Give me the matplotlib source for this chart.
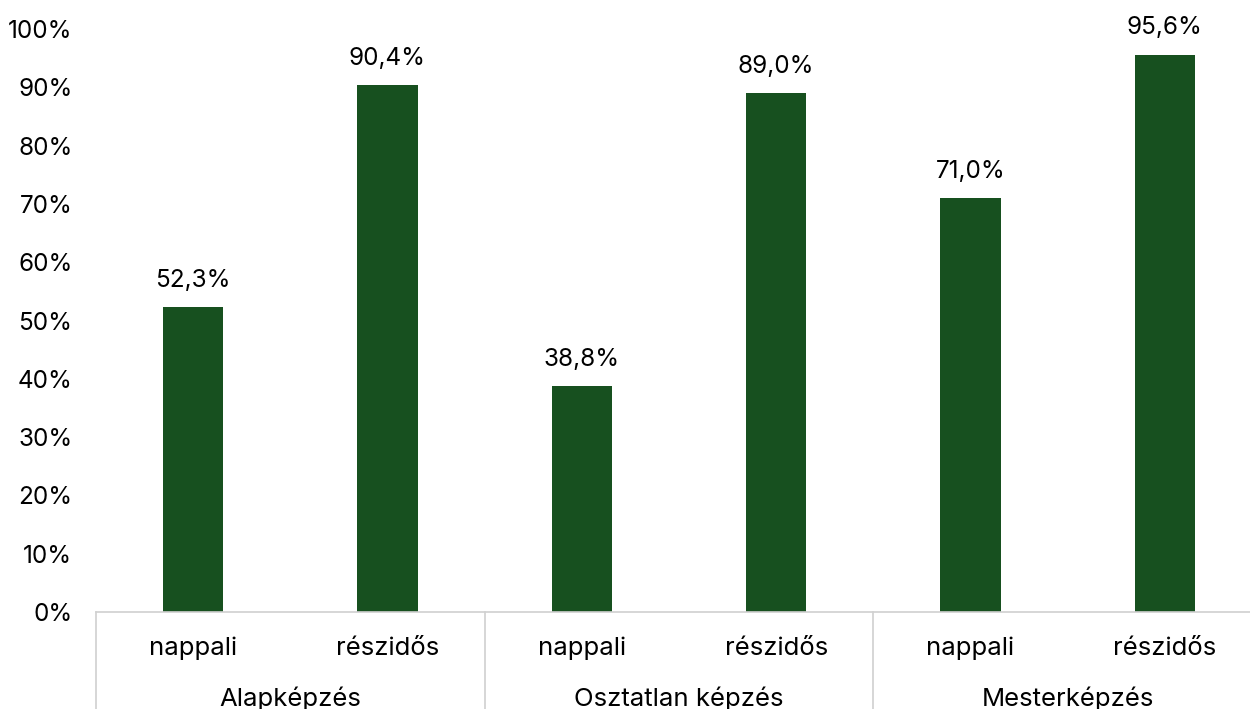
import matplotlib
matplotlib.use("Agg")
import matplotlib.pyplot as plt
from matplotlib.ticker import FuncFormatter

# data
groups = ["Alapképzés", "Osztatlan képzés", "Mesterképzés"]
subcats = ["nappali", "részidős"]
values = [52.3, 90.4, 38.8, 89.0, 71.0, 95.6]

plt.rcParams['font.family'] = ['Inter', 'DejaVu Sans']

fig = plt.figure(figsize=(12.5, 7.09), dpi=100)
ax = fig.add_axes([96/1250, 97/709, 1166/1250, 583/709])

x = list(range(len(values)))
bars = ax.bar(x, values, width=0.31, color="#17501F")

for b, v in zip(bars, values):
    ax.annotate(f"{v:.1f}%".replace(".", ","), (b.get_x() + b.get_width()/2, v),
                xytext=(0, 11), textcoords="offset points",
                ha="center", va="bottom", fontsize=17.5, color="black")

ax.set_xlim(-0.5, len(values) - 0.5)
ax.set_ylim(0, 100)
ax.set_yticks(range(0, 101, 10))
ax.yaxis.set_major_formatter(FuncFormatter(lambda v, p: f"{int(v)}%"))
ax.tick_params(axis="y", length=0, labelsize=17.5, pad=17)
ax.set_xticks([])
for s in ["top", "right", "left"]:
    ax.spines[s].set_visible(False)
ax.spines["bottom"].set_color("#d0d0d0")
ax.spines["bottom"].set_linewidth(1.2)

trans = ax.get_xaxis_transform()
# sub-category labels
for i in x:
    ax.text(i, -0.062, subcats[i % 2], transform=trans, ha="center", va="center",
            fontsize=18.5, clip_on=False)
# group labels and separators
for g, name in enumerate(groups):
    ax.text(2*g + 0.5, -0.148, name, transform=trans, ha="center", va="center",
            fontsize=18.5, clip_on=False)
for k in range(len(groups) + 1):
    ax.plot([2*k - 0.5, 2*k - 0.5], [0, -0.2], transform=trans, color="#d0d0d0",
            lw=1.2, clip_on=False)

fig.savefig("out.png", dpi=100)
